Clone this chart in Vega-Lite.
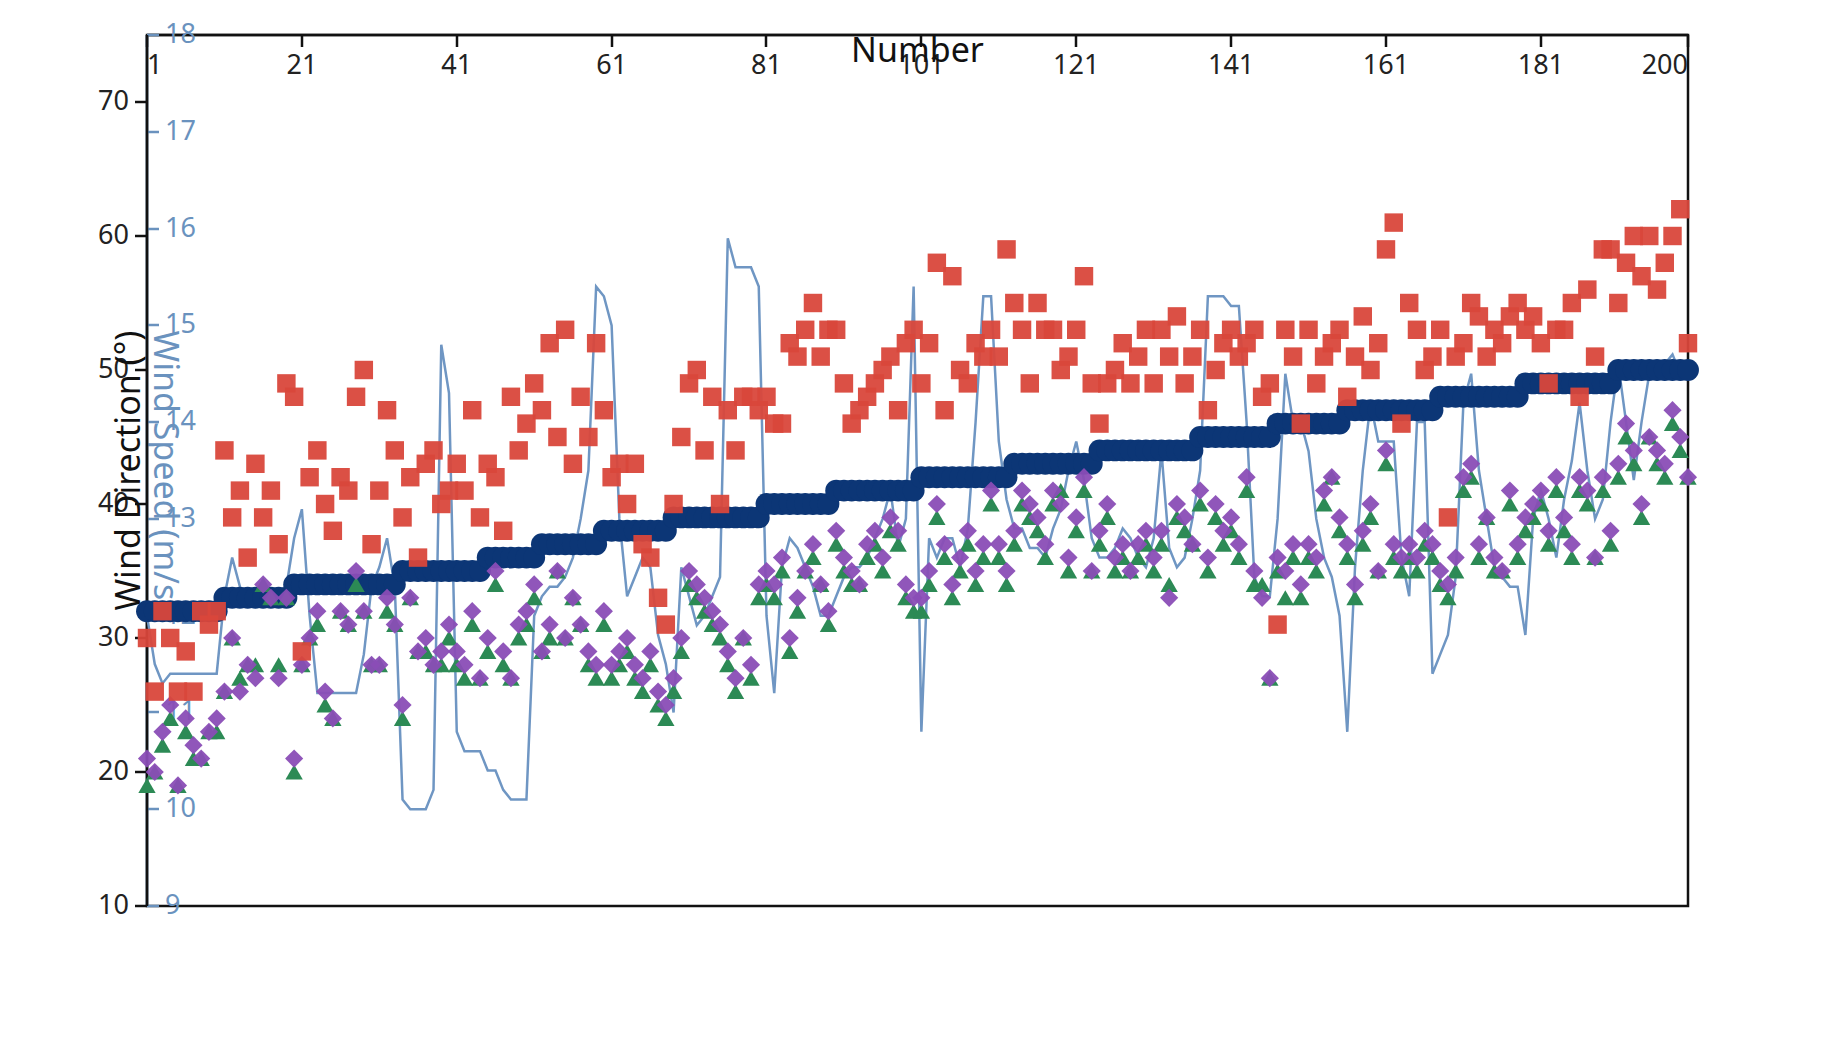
{
  "$schema": "https://vega.github.io/schema/vega-lite/v6.json",
  "width": 1541,
  "height": 871,
  "autosize": "none",
  "padding": {"left": 147, "right": 149, "top": 35, "bottom": 135},
  "background": "white",
  "config": {
    "font": "Noto Sans",
    "view": {"stroke": "#111", "strokeWidth": 2.5},
    "axis": {"labelFontSize": 27, "titleFontSize": 34, "titleFontWeight": "normal", "grid": false, "domainWidth": 2.5, "tickWidth": 2.5, "tickSize": 12, "labelPadding": 6, "domainColor": "#111", "tickColor": "#111", "labelColor": "#222", "titleColor": "#111"},
    "legend": {"labelFontSize": 28, "labelColor": "#111", "labelLimit": 500, "symbolSize": 420, "columnPadding": 30, "rowPadding": 12, "strokeColor": "#333", "strokeWidth": 2, "fillColor": "white", "padding": 12, "symbolStrokeWidth": 0, "symbolOpacity": 1}
  },
  "data": {"values": [
    {"n":1,"s":32,"f":30,"r":35,"c":21,"d":19,"w":12.0},{"n":2,"s":32,"f":26,"r":38,"c":20,"d":20,"w":11.5},{"n":3,"s":32,"f":32,"r":37,"c":23,"d":22,"w":11.3},{"n":4,"s":32,"f":30,"r":28,"c":25,"d":24,"w":11.4},{"n":5,"s":32,"f":26,"r":30,"c":19,"d":19,"w":11.4},{"n":6,"s":32,"f":29,"r":38,"c":24,"d":23,"w":11.4},{"n":7,"s":32,"f":26,"r":26,"c":22,"d":21,"w":11.4},{"n":8,"s":32,"f":32,"r":38,"c":21,"d":21,"w":11.4},{"n":9,"s":32,"f":31,"r":37,"c":23,"d":23,"w":11.4},{"n":10,"s":32,"f":32,"r":38,"c":24,"d":23,"w":11.4},
    {"n":11,"s":33,"f":44,"r":41,"c":26,"d":26,"w":12.2},{"n":12,"s":33,"f":39,"r":37,"c":30,"d":30,"w":12.6},{"n":13,"s":33,"f":41,"r":29,"c":26,"d":27,"w":12.3},{"n":14,"s":33,"f":36,"r":36,"c":28,"d":28,"w":12.1},{"n":15,"s":33,"f":43,"r":42,"c":27,"d":28,"w":12.1},{"n":16,"s":33,"f":39,"r":38,"c":34,"d":34,"w":12.1},{"n":17,"s":33,"f":41,"r":44,"c":33,"d":33,"w":12.1},{"n":18,"s":33,"f":37,"r":37,"c":27,"d":28,"w":12.1},{"n":19,"s":33,"f":49,"r":40,"c":33,"d":33,"w":12.3},{"n":20,"s":34,"f":48,"r":36,"c":21,"d":20,"w":12.8},
    {"n":21,"s":34,"f":29,"r":39,"c":28,"d":28,"w":13.1},{"n":22,"s":34,"f":42,"r":41,"c":30,"d":30,"w":12.0},{"n":23,"s":34,"f":44,"r":43,"c":32,"d":31,"w":11.2},{"n":24,"s":34,"f":40,"r":38,"c":26,"d":25,"w":11.2},{"n":25,"s":34,"f":38,"r":36,"c":24,"d":24,"w":11.2},{"n":26,"s":34,"f":42,"r":45,"c":32,"d":32,"w":11.2},{"n":27,"s":34,"f":41,"r":40,"c":31,"d":31,"w":11.2},{"n":28,"s":34,"f":48,"r":43,"c":35,"d":34,"w":11.2},{"n":29,"s":34,"f":50,"r":37,"c":32,"d":32,"w":11.6},{"n":30,"s":34,"f":37,"r":34,"c":28,"d":28,"w":12.3},
    {"n":31,"s":34,"f":41,"r":36,"c":28,"d":28,"w":12.5},{"n":32,"s":34,"f":47,"r":44,"c":33,"d":32,"w":12.8},{"n":33,"s":34,"f":44,"r":34,"c":31,"d":31,"w":12.3},{"n":34,"s":35,"f":39,"r":35,"c":25,"d":24,"w":10.1},{"n":35,"s":35,"f":42,"r":44,"c":33,"d":33,"w":10.0},{"n":36,"s":35,"f":36,"r":33,"c":29,"d":29,"w":10.0},{"n":37,"s":35,"f":43,"r":43,"c":30,"d":29,"w":10.0},{"n":38,"s":35,"f":44,"r":41,"c":28,"d":28,"w":10.2},{"n":39,"s":35,"f":40,"r":32,"c":29,"d":28,"w":14.8},{"n":40,"s":35,"f":41,"r":38,"c":31,"d":30,"w":14.3},
    {"n":41,"s":35,"f":43,"r":40,"c":29,"d":28,"w":10.8},{"n":42,"s":35,"f":41,"r":36,"c":28,"d":27,"w":10.6},{"n":43,"s":35,"f":47,"r":35,"c":32,"d":31,"w":10.6},{"n":44,"s":35,"f":39,"r":41,"c":27,"d":27,"w":10.6},{"n":45,"s":36,"f":43,"r":42,"c":30,"d":29,"w":10.4},{"n":46,"s":36,"f":42,"r":37,"c":35,"d":34,"w":10.4},{"n":47,"s":36,"f":38,"r":33,"c":29,"d":28,"w":10.2},{"n":48,"s":36,"f":48,"r":40,"c":27,"d":27,"w":10.1},{"n":49,"s":36,"f":44,"r":36,"c":31,"d":30,"w":10.1},{"n":50,"s":36,"f":46,"r":38,"c":32,"d":31,"w":10.1},
    {"n":51,"s":36,"f":49,"r":44,"c":34,"d":33,"w":12.0},{"n":52,"s":37,"f":47,"r":45,"c":29,"d":29,"w":12.2},{"n":53,"s":37,"f":52,"r":48,"c":31,"d":30,"w":12.3},{"n":54,"s":37,"f":45,"r":45,"c":35,"d":35,"w":12.3},{"n":55,"s":37,"f":53,"r":39,"c":30,"d":30,"w":12.4},{"n":56,"s":37,"f":43,"r":46,"c":33,"d":33,"w":12.6},{"n":57,"s":37,"f":48,"r":44,"c":31,"d":31,"w":13.0},{"n":58,"s":37,"f":45,"r":40,"c":29,"d":28,"w":13.5},{"n":59,"s":37,"f":52,"r":45,"c":28,"d":27,"w":15.4},{"n":60,"s":38,"f":47,"r":43,"c":32,"d":31,"w":15.3},
    {"n":61,"s":38,"f":42,"r":40,"c":28,"d":27,"w":15.0},{"n":62,"s":38,"f":43,"r":44,"c":29,"d":28,"w":13.0},{"n":63,"s":38,"f":40,"r":38,"c":30,"d":29,"w":12.2},{"n":64,"s":38,"f":43,"r":41,"c":28,"d":27,"w":12.4},{"n":65,"s":38,"f":37,"r":37,"c":27,"d":26,"w":12.6},{"n":66,"s":38,"f":36,"r":36,"c":29,"d":28,"w":12.5},{"n":67,"s":38,"f":33,"r":35,"c":26,"d":25,"w":11.8},{"n":68,"s":38,"f":31,"r":41,"c":25,"d":24,"w":11.5},{"n":69,"s":39,"f":40,"r":43,"c":27,"d":26,"w":11.0},{"n":70,"s":39,"f":45,"r":45,"c":30,"d":29,"w":12.5},
    {"n":71,"s":39,"f":49,"r":47,"c":35,"d":34,"w":12.2},{"n":72,"s":39,"f":50,"r":43,"c":34,"d":33,"w":11.9},{"n":73,"s":39,"f":44,"r":44,"c":33,"d":32,"w":12.0},{"n":74,"s":39,"f":48,"r":39,"c":32,"d":31,"w":12.2},{"n":75,"s":39,"f":40,"r":48,"c":31,"d":30,"w":12.4},{"n":76,"s":39,"f":47,"r":42,"c":29,"d":28,"w":15.9},{"n":77,"s":39,"f":44,"r":45,"c":27,"d":26,"w":15.6},{"n":78,"s":39,"f":48,"r":39,"c":30,"d":30,"w":15.6},{"n":79,"s":39,"f":48,"r":42,"c":28,"d":27,"w":15.6},{"n":80,"s":39,"f":47,"r":41,"c":34,"d":33,"w":15.4},
    {"n":81,"s":40,"f":48,"r":43,"c":35,"d":34,"w":12.0},{"n":82,"s":40,"f":46,"r":42,"c":34,"d":33,"w":11.2},{"n":83,"s":40,"f":46,"r":48,"c":36,"d":35,"w":12.5},{"n":84,"s":40,"f":52,"r":46,"c":30,"d":29,"w":12.8},{"n":85,"s":40,"f":51,"r":47,"c":33,"d":32,"w":12.7},{"n":86,"s":40,"f":53,"r":45,"c":35,"d":35,"w":12.5},{"n":87,"s":40,"f":55,"r":49,"c":37,"d":36,"w":12.3},{"n":88,"s":40,"f":51,"r":43,"c":34,"d":34,"w":12.0},{"n":89,"s":40,"f":53,"r":46,"c":32,"d":31,"w":12.0},{"n":90,"s":41,"f":53,"r":49,"c":38,"d":37,"w":12.2},
    {"n":91,"s":41,"f":49,"r":45,"c":36,"d":35,"w":12.4},{"n":92,"s":41,"f":46,"r":48,"c":35,"d":34,"w":12.5},{"n":93,"s":41,"f":47,"r":44,"c":34,"d":34,"w":12.5},{"n":94,"s":41,"f":48,"r":46,"c":37,"d":36,"w":12.6},{"n":95,"s":41,"f":49,"r":49,"c":38,"d":37,"w":12.8},{"n":96,"s":41,"f":50,"r":41,"c":36,"d":35,"w":13.0},{"n":97,"s":41,"f":51,"r":43,"c":39,"d":38,"w":13.3},{"n":98,"s":41,"f":47,"r":47,"c":38,"d":37,"w":12.7},{"n":99,"s":41,"f":52,"r":50,"c":34,"d":33,"w":13.0},{"n":100,"s":41,"f":53,"r":45,"c":33,"d":32,"w":15.4},
    {"n":101,"s":42,"f":49,"r":45,"c":33,"d":32,"w":10.8},{"n":102,"s":42,"f":52,"r":55,"c":35,"d":34,"w":12.8},{"n":103,"s":42,"f":58,"r":46,"c":40,"d":39,"w":12.6},{"n":104,"s":42,"f":47,"r":48,"c":37,"d":36,"w":12.8},{"n":105,"s":42,"f":57,"r":47,"c":34,"d":33,"w":12.8},{"n":106,"s":42,"f":50,"r":50,"c":36,"d":35,"w":12.5},{"n":107,"s":42,"f":49,"r":44,"c":38,"d":37,"w":12.9},{"n":108,"s":42,"f":52,"r":51,"c":35,"d":34,"w":14.0},{"n":109,"s":42,"f":51,"r":55,"c":37,"d":36,"w":15.3},{"n":110,"s":42,"f":53,"r":46,"c":41,"d":40,"w":15.3},
    {"n":111,"s":42,"f":51,"r":46,"c":37,"d":36,"w":13.8},{"n":112,"s":42,"f":59,"r":41,"c":35,"d":34,"w":13.2},{"n":113,"s":43,"f":55,"r":47,"c":38,"d":37,"w":12.9},{"n":114,"s":43,"f":53,"r":44,"c":41,"d":40,"w":12.9},{"n":115,"s":43,"f":49,"r":48,"c":40,"d":39,"w":12.7},{"n":116,"s":43,"f":55,"r":43,"c":39,"d":38,"w":12.7},{"n":117,"s":43,"f":53,"r":47,"c":37,"d":36,"w":12.6},{"n":118,"s":43,"f":53,"r":45,"c":41,"d":40,"w":12.9},{"n":119,"s":43,"f":50,"r":46,"c":40,"d":41,"w":13.1},{"n":120,"s":43,"f":51,"r":48,"c":36,"d":35,"w":13.5},
    {"n":121,"s":43,"f":53,"r":45,"c":39,"d":38,"w":13.8},{"n":122,"s":43,"f":57,"r":43,"c":42,"d":41,"w":13.4},{"n":123,"s":43,"f":49,"r":40,"c":35,"d":35,"w":12.8},{"n":124,"s":44,"f":46,"r":47,"c":38,"d":37,"w":12.6},{"n":125,"s":44,"f":49,"r":44,"c":40,"d":39,"w":12.6},{"n":126,"s":44,"f":50,"r":45,"c":36,"d":35,"w":12.7},{"n":127,"s":44,"f":52,"r":45,"c":37,"d":36,"w":12.9},{"n":128,"s":44,"f":49,"r":47,"c":35,"d":35,"w":12.8},{"n":129,"s":44,"f":51,"r":44,"c":37,"d":36,"w":12.6},{"n":130,"s":44,"f":53,"r":48,"c":38,"d":37,"w":12.5},
    {"n":131,"s":44,"f":49,"r":47,"c":36,"d":35,"w":12.8},{"n":132,"s":44,"f":53,"r":49,"c":38,"d":37,"w":13.7},{"n":133,"s":44,"f":51,"r":43,"c":33,"d":34,"w":12.7},{"n":134,"s":44,"f":54,"r":41,"c":40,"d":39,"w":12.5},{"n":135,"s":44,"f":49,"r":50,"c":39,"d":38,"w":12.6},{"n":136,"s":44,"f":51,"r":44,"c":37,"d":37,"w":13.0},{"n":137,"s":45,"f":53,"r":49,"c":41,"d":40,"w":13.5},{"n":138,"s":45,"f":47,"r":48,"c":36,"d":35,"w":15.3},{"n":139,"s":45,"f":50,"r":46,"c":40,"d":39,"w":15.3},{"n":140,"s":45,"f":52,"r":52,"c":38,"d":37,"w":15.3},
    {"n":141,"s":45,"f":53,"r":53,"c":39,"d":38,"w":15.2},{"n":142,"s":45,"f":51,"r":47,"c":37,"d":36,"w":15.2},{"n":143,"s":45,"f":52,"r":53,"c":42,"d":41,"w":14.0},{"n":144,"s":45,"f":53,"r":51,"c":35,"d":34,"w":12.4},{"n":145,"s":45,"f":48,"r":52,"c":33,"d":34,"w":12.2},{"n":146,"s":45,"f":49,"r":50,"c":27,"d":27,"w":12.2},{"n":147,"s":46,"f":31,"r":41,"c":36,"d":35,"w":13.0},{"n":148,"s":46,"f":53,"r":47,"c":35,"d":33,"w":14.5},{"n":149,"s":46,"f":51,"r":51,"c":37,"d":36,"w":14.0},{"n":150,"s":46,"f":46,"r":48,"c":34,"d":33,"w":14.0},
    {"n":151,"s":46,"f":53,"r":51,"c":37,"d":36,"w":13.7},{"n":152,"s":46,"f":49,"r":52,"c":36,"d":35,"w":13.0},{"n":153,"s":46,"f":51,"r":50,"c":41,"d":40,"w":12.6},{"n":154,"s":46,"f":52,"r":53,"c":42,"d":42,"w":12.4},{"n":155,"s":46,"f":53,"r":46,"c":39,"d":38,"w":12.0},{"n":156,"s":47,"f":48,"r":55,"c":37,"d":36,"w":10.8},{"n":157,"s":47,"f":51,"r":49,"c":34,"d":33,"w":12.5},{"n":158,"s":47,"f":54,"r":51,"c":38,"d":37,"w":13.5},{"n":159,"s":47,"f":50,"r":49,"c":40,"d":39,"w":14.2},{"n":160,"s":47,"f":52,"r":52,"c":35,"d":35,"w":13.8},
    {"n":161,"s":47,"f":59,"r":58,"c":44,"d":43,"w":13.8},{"n":162,"s":47,"f":61,"r":61,"c":37,"d":36,"w":13.8},{"n":163,"s":47,"f":46,"r":49,"c":36,"d":35,"w":12.6},{"n":164,"s":47,"f":55,"r":55,"c":37,"d":36,"w":12.2},{"n":165,"s":47,"f":53,"r":49,"c":36,"d":35,"w":14.0},{"n":166,"s":47,"f":50,"r":47,"c":38,"d":37,"w":14.0},{"n":167,"s":47,"f":51,"r":52,"c":37,"d":36,"w":11.4},{"n":168,"s":48,"f":53,"r":53,"c":35,"d":34,"w":11.6},{"n":169,"s":48,"f":39,"r":52,"c":34,"d":33,"w":11.8},{"n":170,"s":48,"f":51,"r":54,"c":36,"d":35,"w":12.4},
    {"n":171,"s":48,"f":52,"r":51,"c":42,"d":41,"w":14.2},{"n":172,"s":48,"f":55,"r":56,"c":43,"d":42,"w":14.5},{"n":173,"s":48,"f":54,"r":56,"c":37,"d":36,"w":13.5},{"n":174,"s":48,"f":51,"r":48,"c":39,"d":39,"w":13.0},{"n":175,"s":48,"f":53,"r":52,"c":36,"d":35,"w":12.5},{"n":176,"s":48,"f":52,"r":50,"c":35,"d":35,"w":12.4},{"n":177,"s":48,"f":54,"r":53,"c":41,"d":40,"w":12.3},{"n":178,"s":48,"f":55,"r":47,"c":37,"d":36,"w":12.3},{"n":179,"s":49,"f":53,"r":52,"c":39,"d":38,"w":11.8},{"n":180,"s":49,"f":54,"r":51,"c":40,"d":39,"w":13.0},
    {"n":181,"s":49,"f":52,"r":45,"c":41,"d":40,"w":13.3},{"n":182,"s":49,"f":49,"r":51,"c":38,"d":37,"w":13.0},{"n":183,"s":49,"f":53,"r":53,"c":42,"d":41,"w":12.6},{"n":184,"s":49,"f":53,"r":56,"c":39,"d":38,"w":13.2},{"n":185,"s":49,"f":55,"r":53,"c":37,"d":36,"w":13.6},{"n":186,"s":49,"f":48,"r":51,"c":42,"d":41,"w":14.2},{"n":187,"s":49,"f":56,"r":49,"c":41,"d":40,"w":13.5},{"n":188,"s":49,"f":51,"r":52,"c":36,"d":36,"w":13.0},{"n":189,"s":49,"f":59,"r":60,"c":42,"d":41,"w":13.2},{"n":190,"s":49,"f":59,"r":59,"c":38,"d":37,"w":14.0},
    {"n":191,"s":50,"f":55,"r":54,"c":43,"d":42,"w":14.6},{"n":192,"s":50,"f":58,"r":60,"c":46,"d":45,"w":14.0},{"n":193,"s":50,"f":60,"r":58,"c":44,"d":43,"w":13.4},{"n":194,"s":50,"f":57,"r":57,"c":40,"d":39,"w":14.0},{"n":195,"s":50,"f":60,"r":55,"c":45,"d":45,"w":14.5},{"n":196,"s":50,"f":56,"r":59,"c":44,"d":43,"w":14.6},{"n":197,"s":50,"f":58,"r":47,"c":43,"d":42,"w":14.6},{"n":198,"s":50,"f":60,"r":58,"c":47,"d":46,"w":14.7},{"n":199,"s":50,"f":62,"r":60,"c":45,"d":44,"w":14.5},{"n":200,"s":50,"f":52,"r":50,"c":42,"d":42,"w":14.5}
  ]},
  "layer": [
    {
      "mark": {"type": "area", "line": {"color": "#6f96c3", "strokeWidth": 2.5},
               "fill": {"gradient": "linear", "x1": 0, "y1": 1, "x2": 0, "y2": 0,
                        "stops": [{"offset": 0, "color": "#ffffff"}, {"offset": 1, "color": "#c9dcf0"}]}},
      "encoding": {
        "x": {"field": "n", "type": "quantitative", "title": "Number",
              "scale": {"domain": [1, 200], "nice": false, "zero": false},
              "axis": {"orient": "bottom", "values": [1, 21, 41, 61, 81, 101, 121, 141, 161, 181, 200], "titlePadding": 6}},
        "y": {"field": "w", "type": "quantitative", "title": "Wind Speed (m/s)",
              "scale": {"domain": [9, 18], "nice": false, "zero": false},
              "axis": {"orient": "right", "values": [9, 10, 11, 12, 13, 14, 15, 16, 17, 18], "titlePadding": 10,
                       "domainColor": "#6a92be", "tickColor": "#6a92be", "labelColor": "#6a92be", "titleColor": "#6a92be"}}
      }
    },
    {"mark": {"type": "point", "filled": true, "size": 480, "opacity": 1},
     "encoding": {"x": {"field": "n", "type": "quantitative"},
                  "y": {"field": "s", "type": "quantitative", "title": "Wind Direction (°)",
                        "scale": {"domain": [10, 75], "nice": false, "zero": false},
                        "axis": {"orient": "left", "values": [10, 20, 30, 40, 50, 60, 70], "titlePadding": 10}},
                  "color": {"datum": "Sensor Wind Direction", "type": "nominal",
                            "scale": {"domain": ["Sensor Wind Direction", "Extensions of the DTCWT", "Single Curve Fitting", "DTCWT CSC Max-Energy Ring", "Extensions of the DWT", "Wind Speed"],
                                      "range": ["#0c3676", "#8a4db6", "#d9473b", "#ef952e", "#2c8a55", "#b4d0ee"]},
                            "legend": {"title": null, "orient": "top-right", "columns": 2, "offset": 24}},
                  "shape": {"datum": "Sensor Wind Direction", "type": "nominal",
                            "scale": {"domain": ["Sensor Wind Direction", "Extensions of the DTCWT", "Single Curve Fitting", "DTCWT CSC Max-Energy Ring", "Extensions of the DWT", "Wind Speed"],
                                      "range": ["circle", "diamond", "square", "star", "triangle-up", "square"]},
                            "legend": {"title": null, "orient": "top-right", "columns": 2, "offset": 24}}}},
    {"mark": {"type": "point", "filled": true, "size": 300, "opacity": 1},
     "encoding": {"x": {"field": "n", "type": "quantitative"},
                  "y": {"field": "d", "type": "quantitative", "scale": {"domain": [10, 75], "nice": false, "zero": false}, "axis": null},
                  "color": {"datum": "Extensions of the DWT", "type": "nominal"},
                  "shape": {"datum": "Extensions of the DWT", "type": "nominal"}}},
    {"mark": {"type": "point", "filled": true, "size": 330, "opacity": 0.95},
     "encoding": {"x": {"field": "n", "type": "quantitative"},
                  "y": {"field": "c", "type": "quantitative", "scale": {"domain": [10, 75], "nice": false, "zero": false}, "axis": null},
                  "color": {"datum": "Extensions of the DTCWT", "type": "nominal"},
                  "shape": {"datum": "Extensions of the DTCWT", "type": "nominal"}}},
    {"mark": {"type": "point", "filled": true, "size": 340, "opacity": 0.95},
     "encoding": {"x": {"field": "n", "type": "quantitative"},
                  "y": {"field": "f", "type": "quantitative", "scale": {"domain": [10, 75], "nice": false, "zero": false}, "axis": null},
                  "color": {"datum": "Single Curve Fitting", "type": "nominal"},
                  "shape": {"datum": "Single Curve Fitting", "type": "nominal"}}},
    {"mark": {"type": "point", "filled": true, "size": 480, "opacity": 0.95},
     "encoding": {"x": {"field": "n", "type": "quantitative"},
                  "y": {"field": "r", "type": "quantitative", "scale": {"domain": [10, 75], "nice": false, "zero": false}, "axis": null},
                  "color": {"datum": "DTCWT CSC Max-Energy Ring", "type": "nominal"},
                  "shape": {"datum": "DTCWT CSC Max-Energy Ring", "type": "nominal"}}}
  ],
  "resolve": {"scale": {"y": "independent"}}
}
